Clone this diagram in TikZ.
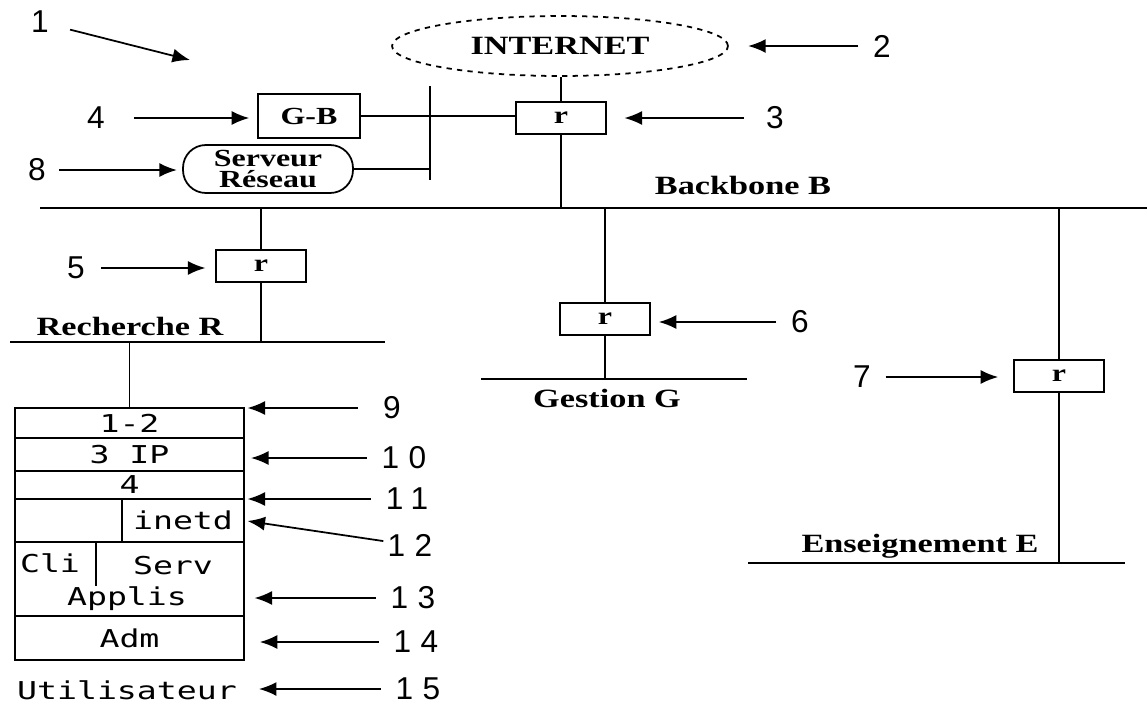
\documentclass[tikz,border=0pt]{standalone}
\usepackage{fontspec}
\usetikzlibrary{positioning,shapes.geometric,arrows.meta}
\newfontfamily\netfont[FakeStretch=1.3]{Liberation Serif}
\newfontfamily\numfont[LetterSpace=30]{Liberation Sans}
\newfontfamily\stackfont[FakeStretch=1.35]{DejaVu Sans Mono}
\tikzset{
	router/.style={draw, minimum width=1.8cm, minimum height=0.64cm, inner sep=0pt, font=\netfont\bfseries\fontsize{14}{14}\selectfont},
	netlabel/.style={inner sep=0pt, font=\netfont\bfseries\fontsize{15}{15}\selectfont},
	num/.style={inner sep=0pt, font=\numfont\fontsize{18}{18}\selectfont},
	ptr/.style={-{Latex[length=10pt,width=8pt]}, shorten <=8pt},
	layer/.style={draw, minimum width=4.58cm, inner sep=0pt, outer sep=0pt, font=\stackfont\fontsize{14}{14}\selectfont},
	layertext/.style={inner sep=0pt, font=\stackfont\fontsize{14}{14}\selectfont}
}
\begin{document}
\begin{tikzpicture}[x=0.02cm, y=-0.02cm, line width=1pt]
	\useasboundingbox (0,0) rectangle (1147,707);
	% backbone and its three branches
	\coordinate (bbL) at (40,208);
	\coordinate (bbR) at (1147,208);
	\draw (bbL) -- (bbR);
	\node[netlabel] (bbtxt) at (743,185) {Backbone B};

	\node[draw, dashed, ellipse, minimum width=6.72cm, minimum height=1.2cm, inner sep=0pt,
		font=\netfont\bfseries\fontsize{15}{15}\selectfont] (internet) at (560,46) {INTERNET};
	\node[router] (rB) at (561,118) {r};
	\draw (rB.north) -- (rB.north |- internet.south);
	\draw (rB.south) -- (rB.south |- bbL);

	\node[router, minimum width=2.04cm, minimum height=0.88cm] (gb) at (309,116) {G-B};
	\draw (gb.east) -- (gb.east -| rB.west);
	\node[draw, rounded corners=13pt, minimum width=3.4cm, minimum height=0.96cm, inner sep=0pt,
		align=center, font=\netfont\bfseries\fontsize{14}{12.5}\selectfont] (srv) at (268,169) {Serveur\\Réseau};
	\coordinate (barT) at (430,86);
	\coordinate (barB) at (430,180);
	\draw (barT) -- (barB);
	\draw (srv.east) -- (srv.east -| barB);

	\node[router] (rR) at (261,266) {r};
	\coordinate (rechL) at (10,342);
	\coordinate (rechR) at (385,342);
	\draw (rechL) -- (rechR);
	\draw (rR.north) -- (rR.north |- bbL);
	\draw (rR.south) -- (rR.south |- rechL);
	\node[netlabel] (rechtxt) at (130,326) {Recherche R};

	\node[router] (rG) at (605,319) {r};
	\coordinate (gesL) at (481,379);
	\coordinate (gesR) at (747,379);
	\draw (gesL) -- (gesR);
	\draw (rG.north) -- (rG.north |- bbL);
	\draw (rG.south) -- (rG.south |- gesL);
	\node[netlabel] (gestxt) at (607,398) {Gestion G};

	\node[router] (rE) at (1059,376) {r};
	\coordinate (ensL) at (748,563);
	\coordinate (ensR) at (1125,563);
	\draw (ensL) -- (ensR);
	\draw (rE.north) -- (rE.north |- bbL);
	\draw (rE.south) -- (rE.south |- ensL);
	\node[netlabel] (enstxt) at (920,546) {Enseignement E};

	% layer stack
	\node[layer, minimum height=0.6cm] (l12) at (129.5,423) {1-2};
	\node[layer, minimum height=0.66cm, below=0pt of l12] (lip) {3 IP};
	\node[layer, minimum height=0.56cm, below=0pt of lip] (l4) {4};
	\node[layer, minimum height=0.86cm, below=0pt of l4] (linetd) {};
	\node[layer, minimum height=1.48cm, below=0pt of linetd] (lapp) {};
	\node[layer, minimum height=0.88cm, below=0pt of lapp] (ladm) {Adm};
	\draw (l12.north) -- (l12.north |- rechL);
	\coordinate (divI) at (122,520);
	\draw (divI |- linetd.north) -- (divI |- linetd.south);
	\node[layertext] (inetd) at (183,520) {inetd};
	\coordinate (divA) at (96,586);
	\draw (divA |- lapp.north) -- (divA);
	\node[layertext] (cli) at (50,563) {Cli};
	\node[layertext] (serv) at (173,566) {Serv};
	\node[layertext] (applis) at (127,599) {Applis};
	\node[layertext] (user) at (127,690) {Utilisateur};

	% numbered pointers
	\node[num] (n1) at (40,22) {1};
	\coordinate (site) at (190,60);
	\draw[ptr, shorten <=12pt] (n1) -- (site);
	\node[num] (n2) at (882,46) {2};
	\draw[ptr, shorten >=11pt] (n2) -- (n2 -| internet.east);
	\node[num] (n3) at (775,118) {3};
	\draw[ptr, shorten <=12pt, shorten >=10pt] (n3) -- (n3 -| rB.east);
	\node[num] (n4) at (96,118) {4};
	\draw[ptr, shorten <=16pt, shorten >=4.5pt] (n4) -- (n4 -| gb.west);
	\node[num] (n8) at (37,170) {8};
	\draw[ptr, shorten <=7pt, shorten >=3pt] (n8) -- (n8 -| srv.west);
	\node[num] (n5) at (76,268) {5};
	\draw[ptr, shorten <=9pt, shorten >=5.5pt] (n5) -- (n5 -| rR.west);
	\node[num] (n6) at (800,322) {6};
	\draw[ptr, shorten >=4.5pt] (n6) -- (n6 -| rG.east);
	\node[num] (n7) at (862,377) {7};
	\draw[ptr, shorten >=8.5pt] (n7) -- (n7 -| rE.west);
	\node[num] (n9) at (392,408) {9};
	\draw[ptr, shorten <=14pt, shorten >=2pt] (n9) -- (n9 -| l12.east);
	\node[num] (n10) at (404,458) {10};
	\draw[ptr, shorten >=4pt] (n10) -- (n10 -| lip.east);
	\node[num] (n11) at (407,499) {11};
	\draw[ptr, shorten >=2pt] (n11) -- (n11 -| l4.east);
	\node[num] (n12) at (410,545) {12};
	\draw[ptr, shorten <=2pt, shorten >=2pt] (n12) -- (linetd.east);
	\node[num] (n13) at (413,598) {13};
	\draw[ptr, shorten >=6pt] (n13) -- (n13 -| lapp.east);
	\node[num] (n14) at (416,642) {14};
	\draw[ptr, shorten >=9pt] (n14) -- (n14 -| ladm.east);
	\node[num] (n15) at (418,689) {15};
	\draw[ptr, shorten >=12pt] (n15) -- (n15 -| user.east);
\end{tikzpicture}
\end{document}
